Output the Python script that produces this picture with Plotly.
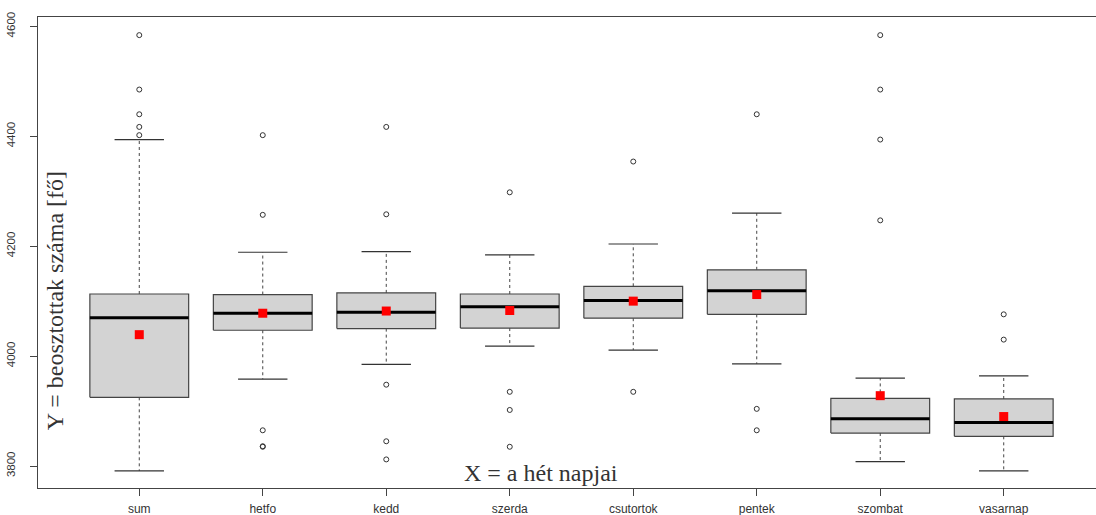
import plotly.graph_objects as go

days = ["sum", "hetfo", "kedd", "szerda", "csutortok", "pentek", "szombat", "vasarnap"]
q1 = [3925, 4047, 4050, 4051, 4069, 4076, 3860, 3854]
median = [4070, 4078, 4080, 4090, 4101, 4119, 3886, 3879]
q3 = [4113, 4112, 4115, 4113, 4127, 4157, 3923, 3922]
lower_whisker = [3791, 3958, 3985, 4018, 4011, 3986, 3808, 3791]
upper_whisker = [4394, 4189, 4190, 4184, 4204, 4260, 3960, 3964]
means = [4039, 4078, 4082, 4083, 4100, 4112, 3928, 3890]
outliers_sum = [4584, 4485, 4440, 4417, 4402]
outliers_hetfo = [4402, 4257, 3865, 3836, 3835]
outliers_kedd = [4417, 4258, 3948, 3845, 3812]
outliers_szerda = [4298, 3935, 3902, 3835]
outliers_csutortok = [4354, 3935]
outliers_pentek = [4440, 3904, 3865]
outliers_szombat = [4584, 4485, 4394, 4247]
outliers_vasarnap = [4076, 4030]
outliers = [outliers_sum, outliers_hetfo, outliers_kedd, outliers_szerda,
            outliers_csutortok, outliers_pentek, outliers_szombat, outliers_vasarnap]
y_ticks = [3800, 4000, 4200, 4400, 4600]

HW = 0.4   # half box width
CW = 0.2   # half cap width
pos = list(range(1, len(days) + 1))

bx, by, mx, my, wx, wy, cx, cy, ox, oy = [], [], [], [], [], [], [], [], [], []
for i, p in enumerate(pos):
    bx += [p - HW, p + HW, p + HW, p - HW, p - HW, None]
    by += [q1[i], q1[i], q3[i], q3[i], q1[i], None]
    mx += [p - HW, p + HW, None]
    my += [median[i], median[i], None]
    wx += [p, p, None, p, p, None]
    wy += [q3[i], upper_whisker[i], None, q1[i], lower_whisker[i], None]
    cx += [p - CW, p + CW, None, p - CW, p + CW, None]
    cy += [upper_whisker[i], upper_whisker[i], None, lower_whisker[i], lower_whisker[i], None]
    for v in outliers[i]:
        ox.append(p)
        oy.append(v)

fig = go.Figure()
fig.add_trace(go.Scatter(x=wx, y=wy, mode="lines",
                         line=dict(color="#444444", width=1, dash="3px,3px"), hoverinfo="skip"))
fig.add_trace(go.Scatter(x=cx, y=cy, mode="lines",
                         line=dict(color="#333333", width=1.2), hoverinfo="skip"))
fig.add_trace(go.Scatter(x=bx, y=by, mode="lines", fill="toself", fillcolor="#D3D3D3",
                         line=dict(color="#444444", width=1.2), hoverinfo="skip"))
fig.add_trace(go.Scatter(x=mx, y=my, mode="lines",
                         line=dict(color="#000000", width=3), hoverinfo="skip"))
fig.add_trace(go.Scatter(x=ox, y=oy, mode="markers",
                         marker=dict(symbol="circle-open", size=5, color="#333333",
                                     line=dict(width=1, color="#333333")), hoverinfo="skip"))
fig.add_trace(go.Scatter(x=pos, y=means, mode="markers",
                         marker=dict(symbol="square", size=9, color="#FF0000"), hoverinfo="skip"))

fig.update_layout(
    width=1105, height=515,
    margin=dict(l=38, r=0, t=17, b=27),
    plot_bgcolor="white", paper_bgcolor="white",
    showlegend=False,
    font=dict(family="Liberation Sans, Arial", size=12, color="#333333"),
    xaxis=dict(range=[0.18, 8.82], tickmode="array", tickvals=pos, ticktext=days,
               showgrid=False, zeroline=False, showline=True, mirror=True,
               linecolor="#444444", linewidth=1.2, ticks="outside", ticklen=7,
               tickcolor="#444444", ticklabelstandoff=2,
               tickfont=dict(size=12, color="#333333")),
    yaxis=dict(range=[3760, 4617], tickmode="array", tickvals=y_ticks,
               ticktext=[str(t) for t in y_ticks], tickangle=-90,
               showgrid=False, zeroline=False, showline=True, mirror=True,
               linecolor="#444444", linewidth=1.2, ticks="outside", ticklen=7,
               tickcolor="#444444", ticklabelstandoff=10,
               tickfont=dict(size=11.5, color="#333333")),
    annotations=[
        dict(text="Y = beosztottak száma [fő]", xref="paper", yref="paper",
             x=0.0161, y=0.397, textangle=-90, showarrow=False,
             xanchor="center", yanchor="middle",
             font=dict(family="Liberation Serif, Times New Roman", size=24, color="#333333")),
        dict(text="X = a hét napjai", xref="paper", yref="paper",
             x=0.4716, y=0.0318, showarrow=False, xanchor="center", yanchor="middle",
             font=dict(family="Liberation Serif, Times New Roman", size=24, color="#333333")),
    ],
)

fig.write_html(
    "out.html",
    config={"displayModeBar": False},
    post_script="document.body.style.margin='0';document.body.style.padding='0';"
                "document.body.style.overflow='hidden';",
)
